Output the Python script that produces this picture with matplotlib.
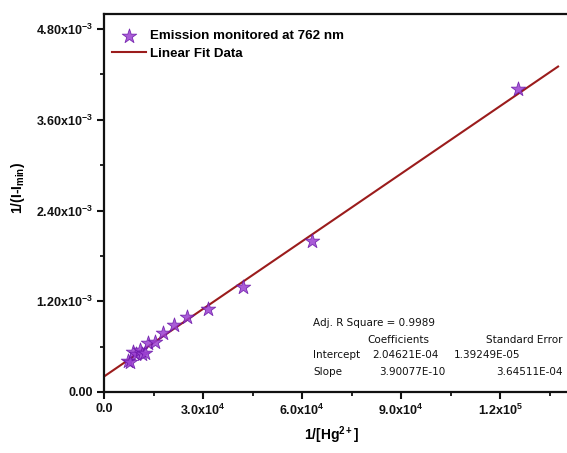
"""Benesi-Hildebrand style plot: 1/(I-Imin) vs 1/[Hg2+] with linear fit."""
import matplotlib

matplotlib.use("Agg")
matplotlib.rcParams["font.family"] = ["Liberation Sans", "DejaVu Sans"]
matplotlib.rcParams["mathtext.fontset"] = "custom"
matplotlib.rcParams["mathtext.rm"] = "Liberation Sans:bold"
matplotlib.rcParams["mathtext.it"] = "Liberation Sans:bold"
matplotlib.rcParams["mathtext.bf"] = "Liberation Sans:bold"

import matplotlib.pyplot as plt
import numpy as np
from matplotlib.ticker import FuncFormatter, MultipleLocator

# data
inv_hg = [7.4e3, 8.0e3, 8.9e3, 9.8e3, 10.9e3, 11.6e3, 12.4e3, 13.4e3, 15.5e3,
          18.0e3, 21.3e3, 25.0e3, 31.6e3, 42.0e3, 63.0e3, 125.5e3]
inv_int = [0.41e-3, 0.40e-3, 0.53e-3, 0.50e-3, 0.556e-3, 0.50e-3, 0.52e-3, 0.644e-3,
           0.665e-3, 0.775e-3, 0.886e-3, 0.996e-3, 1.094e-3, 1.393e-3, 2.00e-3, 4.01e-3]

fit_intercept = 2.04621e-4
fit_slope = 2.98e-8
fit_x = [0.0, 137.6e3]

INK = "#111111"
STAR_FACE = "#9a3fd0"
STAR_EDGE = "#6a16a8"
FIT_RED = "#9b1c1c"


def sci_fmt(decimals, vmax):
    def f(v, pos):
        if v > vmax:
            return ""
        if abs(v) < 1e-15:
            return "%.*f" % (decimals, 0.0)
        exp = int(np.floor(np.log10(abs(v))))
        mant = v / 10 ** exp
        return "%.*fx10$^{%d}$" % (decimals, mant, exp)
    return f


fig = plt.figure(figsize=(5.67, 4.53), dpi=100)
ax = fig.add_axes([104 / 567, 61 / 453, 495 / 567, 378 / 453])

ax.plot(fit_x, [fit_intercept + fit_slope * x for x in fit_x], color=FIT_RED,
        linewidth=1.5, label="Linear Fit Data", zorder=2)
ax.scatter(inv_hg, inv_int, marker="*", s=120, facecolor=STAR_FACE, edgecolor=STAR_EDGE,
           linewidth=0.6, alpha=0.85, label="Emission monitored at 762 nm", zorder=3)

ax.set_xlim(0, 1.5e5)
ax.set_ylim(0, 5.0e-3)
ax.xaxis.set_major_locator(MultipleLocator(3e4))
ax.xaxis.set_minor_locator(MultipleLocator(1.5e4))
ax.yaxis.set_major_locator(MultipleLocator(1.2e-3))
ax.yaxis.set_minor_locator(MultipleLocator(0.6e-3))
ax.xaxis.set_major_formatter(FuncFormatter(sci_fmt(1, 1.3e5)))
ax.yaxis.set_major_formatter(FuncFormatter(sci_fmt(2, 1.0)))

for s in ax.spines.values():
    s.set_linewidth(1.6)
    s.set_color(INK)
ax.tick_params(which="major", direction="out", length=5, width=1.5, colors=INK,
               labelsize=9, pad=3)
ax.tick_params(which="minor", direction="out", length=3, width=1.3, colors=INK)
for lab in ax.get_xticklabels() + ax.get_yticklabels():
    lab.set_fontweight("bold")

ax.set_xlabel("1/[Hg$^{2+}$]", fontsize=10, fontweight="bold")
ax.set_ylabel("1/(I-I$_{min}$)", fontsize=10, fontweight="bold")
ax.xaxis.set_label_coords((332 - 104) / 495, -(424 - 392) / 378)
ax.yaxis.set_label_coords(-(104 - 27) / 495, (392 - 188) / 378)

handles, labels = ax.get_legend_handles_labels()
leg = ax.legend(handles[::-1], labels[::-1], loc="upper left", bbox_to_anchor=(-0.01, 0.993),
                frameon=False, prop={"weight": "bold", "size": 9.6}, handlelength=2.5,
                handletextpad=0.35, labelspacing=0.4, borderaxespad=0.6)

# fit statistics table
tkw = dict(transform=fig.transFigure, fontsize=7.5, family="DejaVu Sans", color=INK, va="center")
W, H = 567, 453
fig.text(313 / W, 1 - 323 / H, "Adj. R Square = 0.9989", **tkw)
fig.text(367 / W, 1 - 340 / H, "Coefficients", **tkw)
fig.text(563 / W, 1 - 340 / H, "Standard Error", ha="right", **tkw)
fig.text(313 / W, 1 - 355 / H, "Intercept", **tkw)
fig.text(372 / W, 1 - 355 / H, "2.04621E-04", **tkw)
fig.text(454 / W, 1 - 355 / H, "1.39249E-05", **tkw)
fig.text(313 / W, 1 - 372 / H, "Slope", **tkw)
fig.text(379 / W, 1 - 372 / H, "3.90077E-10", **tkw)
fig.text(563 / W, 1 - 372 / H, "3.64511E-04", ha="right", **tkw)

fig.savefig("out.png", facecolor="white")
plt.close(fig)
